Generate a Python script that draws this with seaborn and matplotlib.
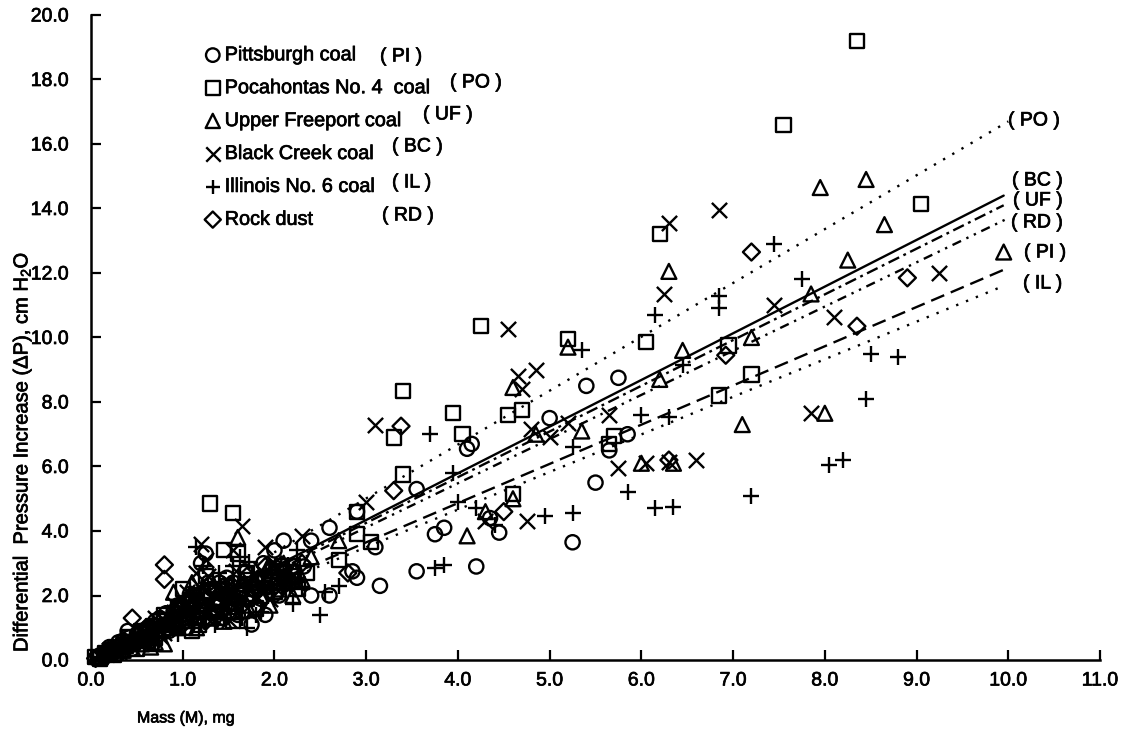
import seaborn as sns
import pandas as pd
from matplotlib import pyplot as plt
from matplotlib import patheffects
from matplotlib.text import Text

# Values
pi_x = [5.25, 4.2, 3.15, 3.55, 3.75, 3.85, 4.35, 4.45, 4.1, 4.15, 3.55, 5.0, 5.4, 5.75, 5.85, 5.5, 5.65, 3.1, 2.9, 2.6,
        2.4, 1.9, 1.75, 2.85, 2.9, 2.6, 2.4, 2.1, 2.0, 1.25, 1.2, 1.4, 1.5, 1.1, 0.9, 0.7, 0.5, 0.35, 0.2, 0.1, 0.05, 1.0, 0.8, 0.6, 0.4, 0.25,
        0.15, 0.3, 0.45, 0.55, 0.65, 0.75, 0.85, 0.95, 1.05, 1.15, 1.25, 1.35, 1.45, 1.55, 1.65, 1.75, 1.85, 1.95, 2.05, 2.15, 0.2, 0.4, 0.6, 0.8, 1.0, 1.2, 1.4, 1.6, 1.8, 2.0,
        0.3, 0.42, 0.52, 0.62, 0.72, 0.82, 0.92, 1.02, 1.12, 1.22, 1.32, 1.42, 1.52, 1.62, 1.72, 1.82, 1.92, 2.02, 2.12, 2.22, 2.32, 1.08, 1.28, 1.48, 1.68, 1.88]
pi_y = [3.65, 2.9, 2.3, 2.75, 3.9, 4.1, 4.4, 3.95, 6.55, 6.7, 5.3, 7.5, 8.5, 8.75, 7.0, 5.5, 6.5, 3.5, 2.55, 2.0,
        2.0, 1.4, 1.1, 2.75, 4.6, 4.1, 3.7, 3.7, 3.4, 3.3, 3.0, 2.4, 2.1, 1.8, 1.5, 1.2, 0.8, 0.6, 0.3, 0.15, 0.05, 1.3, 1.1, 0.7, 0.45, 0.35,
        0.1, 0.2, 0.35, 0.9, 0.6, 1.3, 0.9, 1.7, 1.0, 1.3, 1.9, 1.5, 1.3, 2.4, 1.5, 2.2, 1.9, 2.6, 2.0, 2.5, 0.4, 0.9, 0.8, 0.9, 1.6, 1.5, 1.7, 1.4, 1.6, 2.3,
        0.55, 0.7, 0.65, 1.0, 1.05, 1.45, 1.25, 1.4, 1.65, 1.7, 2.2, 2.05, 1.75, 2.15, 1.95, 2.5, 2.25, 2.85, 2.4, 2.75, 2.9, 2.05, 2.4, 2.55, 2.75, 3.0]

po_x = [8.35, 7.55, 9.05, 6.2, 6.05, 4.25, 5.2, 6.95, 7.2, 6.85, 3.4, 3.95, 4.05, 4.55, 4.7, 3.3, 3.4, 5.65, 5.7, 4.6,
        3.05, 2.9, 2.7, 2.9, 1.3, 1.55, 1.6, 1.45, 1.95, 2.05, 1.15, 1.0, 0.95, 0.75, 0.55, 0.4, 0.3, 0.15, 0.05, 1.25, 1.7, 2.2,
        0.1, 0.25, 0.35, 0.5, 0.6, 0.7, 0.8, 0.9, 1.05, 1.2, 1.3, 1.4, 1.5, 1.6, 1.7, 1.8, 1.9, 2.0, 2.1, 2.25, 0.45, 0.65, 0.85, 1.1, 1.35, 1.55,
        0.22, 0.38, 0.58, 0.68, 0.78, 0.88, 0.98, 1.18, 1.38, 1.58, 1.78, 1.98, 2.18, 1.08, 1.28, 1.48, 1.68, 1.88, 2.08, 2.35]
po_y = [19.2, 16.6, 14.15, 13.2, 9.85, 10.35, 9.95, 9.75, 8.85, 8.2, 8.35, 7.65, 7.0, 7.6, 7.75, 6.9, 5.75, 6.7, 6.95, 5.15,
        3.65, 3.9, 3.1, 4.6, 4.85, 4.55, 3.3, 3.4, 2.4, 2.4, 2.0, 2.2, 1.6, 1.2, 0.9, 0.7, 0.4, 0.2, 0.1, 2.6, 2.7, 2.9,
        0.05, 0.15, 0.3, 0.35, 0.85, 0.7, 1.4, 1.1, 1.2, 1.7, 1.3, 1.8, 1.5, 2.0, 1.9, 1.6, 2.5, 2.1, 2.7, 2.2, 0.55, 0.5, 1.0, 0.9, 1.5, 1.2,
        0.3, 0.45, 0.6, 1.05, 0.95, 1.25, 1.55, 1.1, 2.2, 1.75, 2.2, 2.75, 2.6, 1.85, 2.1, 2.3, 2.35, 2.45, 2.9, 2.7]

uf_x = [8.45, 7.95, 8.65, 8.25, 9.95, 6.3, 7.85, 6.45, 6.2, 5.2, 4.6, 4.85, 5.35, 7.2, 7.1, 8.0, 6.0, 6.35, 4.1, 4.3,
        4.6, 2.7, 1.6, 0.8, 1.0, 1.2, 1.4, 1.8, 2.1, 2.3, 0.6, 0.45, 0.3, 0.2, 0.1, 0.9, 1.1, 1.5,
        0.15, 0.35, 0.5, 0.65, 0.75, 0.85, 0.95, 1.05, 1.15, 1.3, 1.45, 1.55, 1.7, 1.85, 1.95, 2.05, 2.2, 0.55, 0.7, 1.25, 1.65, 2.4,
        0.28, 0.42, 0.62, 0.82, 1.02, 1.22, 1.42, 1.62, 1.82, 2.02, 2.22, 1.12, 1.32, 1.52, 1.72, 1.92]
uf_y = [14.9, 14.65, 13.5, 12.4, 12.65, 12.05, 11.35, 9.6, 8.7, 9.7, 8.45, 7.0, 7.1, 10.0, 7.3, 7.65, 6.1, 6.1, 3.85, 4.6,
        5.0, 3.7, 3.8, 0.5, 1.3, 1.5, 1.9, 2.4, 3.0, 2.5, 1.0, 0.6, 0.5, 0.25, 0.1, 2.1, 2.4, 2.0,
        0.2, 0.3, 0.9, 0.4, 0.9, 1.2, 1.0, 1.6, 1.0, 1.3, 1.2, 1.5, 1.7, 2.0, 1.7, 2.2, 2.0, 0.5, 0.55, 2.0, 2.5, 3.2,
        0.45, 0.55, 0.75, 1.15, 1.55, 1.75, 2.1, 2.2, 2.55, 2.6, 2.75, 1.85, 1.6, 2.3, 2.05, 2.85]

bc_x = [6.3, 6.85, 9.25, 6.25, 7.45, 8.1, 7.85, 4.55, 4.65, 4.7, 4.85, 4.8, 5.0, 5.2, 5.65, 3.1, 5.75, 4.75, 6.05, 6.3,
        6.6, 4.3, 3.0, 1.65, 1.55, 1.9, 2.3, 1.2, 1.25, 1.15, 1.05, 0.9, 1.35, 2.0, 1.85, 0.7, 0.5, 0.35, 0.2, 0.1, 1.6, 2.15,
        0.3, 0.45, 0.6, 0.75, 0.85, 0.95, 1.1, 1.3, 1.45, 1.7, 1.8, 1.95, 2.1, 2.25, 0.55, 0.65, 0.8, 1.0, 1.4, 1.5,
        0.25, 0.4, 0.7, 0.9, 1.08, 1.18, 1.28, 1.38, 1.48, 1.58, 1.75, 1.88, 2.05, 2.2]
bc_y = [13.55, 13.95, 12.0, 11.35, 11.0, 10.65, 7.65, 10.25, 8.8, 8.4, 9.0, 7.15, 6.9, 7.35, 7.6, 7.3, 5.95, 4.3, 6.1, 6.15,
        6.2, 4.3, 4.9, 4.15, 3.4, 3.5, 3.85, 3.6, 3.1, 2.7, 2.1, 1.5, 2.0, 3.0, 2.8, 1.1, 0.7, 0.5, 0.3, 0.1, 2.4, 2.2,
        0.25, 0.4, 0.55, 0.75, 1.1, 1.2, 1.5, 1.2, 1.7, 1.6, 2.0, 1.9, 2.5, 2.4, 0.85, 1.0, 0.85, 1.55, 1.35, 1.25,
        0.4, 0.7, 1.3, 1.75, 1.9, 2.3, 2.6, 2.3, 2.0, 2.75, 2.2, 2.55, 2.85, 2.6]

il_x = [7.45, 7.75, 6.85, 6.85, 6.15, 6.45, 5.35, 8.5, 8.8, 8.45, 8.05, 8.2, 7.2, 5.85, 6.15, 6.35, 5.25, 4.95, 4.4, 3.7,
        3.95, 4.0, 4.2, 3.75, 3.85, 6.0, 6.3, 5.25, 2.5, 2.2, 2.55, 2.7, 1.7, 1.65, 1.6, 1.5, 1.3, 1.2, 1.0, 0.8, 0.6, 0.4, 0.25, 0.1, 1.75, 1.55,
        0.2, 0.35, 0.5, 0.7, 0.9, 1.1, 1.25, 1.35, 1.45, 1.8, 1.9, 2.0, 2.1, 2.3, 0.55, 0.75, 0.95, 1.05, 1.4, 1.85,
        1.15, 1.22, 1.28, 1.18, 1.62, 1.72, 2.15, 2.25]
il_y = [12.9, 11.8, 11.3, 10.9, 10.7, 9.15, 9.6, 9.5, 9.4, 8.1, 6.05, 6.2, 5.1, 5.2, 4.7, 4.75, 4.55, 4.45, 4.2, 7.0,
        5.8, 4.9, 4.7, 2.85, 2.95, 7.6, 7.55, 6.6, 1.4, 1.75, 2.1, 2.3, 1.0, 1.3, 1.7, 2.1, 1.4, 1.1, 1.2, 0.9, 0.6, 0.5, 0.3, 0.1, 2.7, 2.9,
        0.2, 0.25, 0.5, 0.6, 1.2, 1.0, 1.6, 1.1, 1.3, 1.4, 2.2, 1.9, 2.3, 2.2, 0.7, 1.1, 0.8, 1.6, 2.7, 1.5,
        3.5, 2.9, 2.3, 1.9, 3.2, 3.05, 2.95, 3.4]

rd_x = [7.2, 8.9, 8.35, 3.38, 3.3, 6.92, 6.3, 4.5, 0.8, 0.8, 0.45, 1.0, 1.2, 1.45, 1.7, 1.9, 2.1, 2.3, 2.8, 0.65, 0.55, 0.3, 0.15, 0.05, 1.1, 1.35,
        0.25, 0.4, 0.6, 0.7, 0.9, 1.05, 1.25, 1.5, 1.6, 1.8, 2.0, 2.2]
rd_y = [12.65, 11.85, 10.35, 7.25, 5.25, 9.45, 6.2, 4.6, 2.95, 2.5, 1.3, 1.1, 1.6, 2.3, 2.6, 2.9, 2.5, 3.0, 2.7, 1.0, 0.7, 0.4, 0.2, 0.05, 1.9, 1.8,
        0.2, 0.4, 1.0, 0.8, 1.35, 1.8, 1.2, 1.7, 1.8, 2.1, 2.0, 2.4]

# Fitted lines, end value at the right hand end
line_names = ["PO", "BC", "UF", "RD", "PI", "IL"]
line_end_x = [10.0, 9.95, 9.95, 10.0, 9.95, 9.95]
line_end_y = [16.7, 14.4, 14.1, 13.7, 12.1, 11.6]

names = ["Pittsburgh coal", "Pocahontas No. 4  coal", "Upper Freeport coal", "Black Creek coal", "Illinois No. 6 coal", "Rock dust"]
xs = [pi_x, po_x, uf_x, bc_x, il_x, rd_x]
ys = [pi_y, po_y, uf_y, bc_y, il_y, rd_y]
markers = ["o", "s", "^", "x", "+", "D"]
sizes = [105, 105, 115, 120, 120, 75]

sns.set_theme(style="white")
plt.rcParams["font.family"] = ["Liberation Sans", "DejaVu Sans"]
plt.rcParams["mathtext.default"] = "regular"

fig = plt.figure(figsize=(11.25, 7.34), dpi=100)
ax = fig.add_axes([91 / 1125, (734 - 660) / 734, 1009 / 1125, 645 / 734])

for name, x, y, marker, size in zip(names, xs, ys, markers, sizes):
    df = pd.DataFrame({"x": x, "y": y})
    if marker in ("x", "+"):
        sns.scatterplot(data=df, x="x", y="y", marker=marker, s=size, color="black", linewidth=1.7, ax=ax, label=name, clip_on=False)
    else:
        sns.scatterplot(data=df, x="x", y="y", marker=marker, s=size, facecolor="none", edgecolor="black", linewidth=1.7, ax=ax, label=name, clip_on=False)

styles = [(0, (1, 3.5)), "-", (0, (5, 2, 1.2, 2)), (0, (4, 2.5, 1, 2.5, 1, 2.5)), (0, (6, 3)), (0, (1, 3.5))]
for code, end_x, end_y, style in zip(line_names, line_end_x, line_end_y, styles):
    sns.lineplot(x=[0, end_x], y=[0, end_y], color="black", linewidth=1.7, linestyle=style, ax=ax, legend=False)

ax.set_xlim(0, 11)
ax.set_ylim(0, 20)
ax.set_xticks(range(0, 12))
ax.set_xticklabels([f"{i:.1f}" for i in range(0, 12)], fontsize=14)
ax.set_yticks(range(0, 21, 2))
ax.set_yticklabels([f"{i:.1f}" for i in range(0, 21, 2)], fontsize=14)
ax.tick_params(axis="x", direction="in", length=7, width=1.6, color="black", labelcolor="black", bottom=True, pad=9)
ax.tick_params(axis="y", direction="in", length=7, width=1.6, color="black", labelcolor="black", left=True, pad=16)
ax.set_xlabel("")
ax.set_ylabel("")
sns.despine(ax=ax)
for side in ["left", "bottom"]:
    ax.spines[side].set_color("black")
    ax.spines[side].set_linewidth(1.8)

leg = ax.legend(frameon=False, loc="upper left", bbox_to_anchor=(0.101, 0.953), borderpad=0, borderaxespad=0,
                fontsize=14.3, labelspacing=0.7, handletextpad=-0.4, markerscale=0.95)
for t in leg.get_texts():
    t.set_color("black")

# Codes next to the legend rows
legend_codes = [("( PI )", 380, 57), ("( PO )", 450, 83), ("( UF )", 423, 115), ("( BC )", 392, 147), ("( IL )", 392, 183), ("( RD )", 382, 216)]
for code, px, py in legend_codes:
    fig.text(px / 1125, 1 - py / 734, code, fontsize=14, color="black", va="center")

# Codes at the ends of the lines
end_labels = [("( PO )", 1008, 121), ("( BC )", 1012, 181), ("( UF )", 1013, 201), ("( RD )", 1011, 223), ("( PI )", 1024, 253), ("( IL )", 1023, 284)]
for code, px, py in end_labels:
    fig.text(px / 1125, 1 - py / 734, code, fontsize=14, color="black", va="center")

fig.text(137 / 1125, 1 - 718 / 734, "Mass (M), mg", fontsize=11.5, color="black", va="center")
fig.text(22 / 1125, 1 - 452 / 734, "Differential  Pressure Increase ($\\Delta$P), cm H$_2$O", fontsize=14.5, color="black", rotation=90, va="center", ha="center")

# scan makes the type look heavier
for t in fig.findobj(Text):
    t.set_path_effects([patheffects.withStroke(linewidth=0.5, foreground="black")])

fig.savefig("out.png", dpi=100)
